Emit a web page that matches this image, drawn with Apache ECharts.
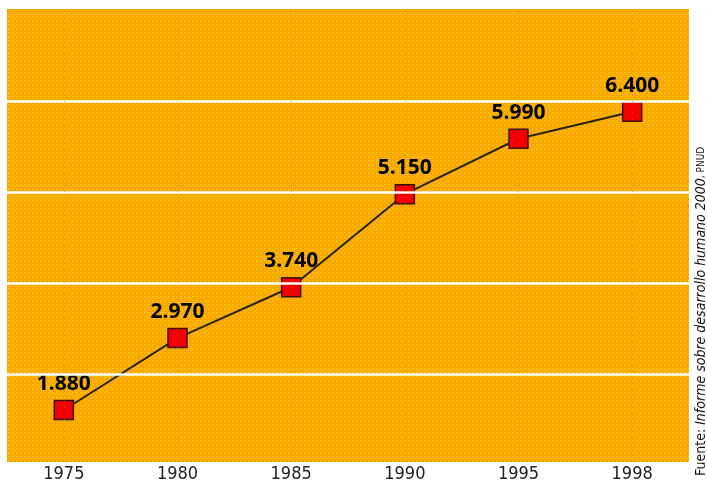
<!DOCTYPE html>
<html>
<head>
<meta charset="utf-8">
<script src="https://cdn.jsdelivr.net/npm/echarts@6/dist/echarts.min.js"></script>
<style>
html,body{margin:0;padding:0;background:#fff;}
#chart{width:707px;height:482px;}
</style>
</head>
<body>
<div id="chart"></div>
<script>
// Data
var years = ['1975', '1980', '1985', '1990', '1995', '1998'];
var values = [1880, 2970, 3740, 5150, 5990, 6400];
var gridLineValues = [2425, 3804, 5183, 6562];
var yMin = 1092;
var yMax = 7956;
var sourceText = {fuente: 'Fuente: ', title: 'Informe sobre desarrollo humano 2000', org: ', PNUD'};

var NARROW = '"DejaVu Sans Condensed", "DejaVu Sans", sans-serif';

// dithered orange pattern
function makePattern() {
  var c = document.createElement('canvas');
  c.width = 4; c.height = 4;
  var ctx = c.getContext('2d');
  ctx.fillStyle = '#F9AA00';
  ctx.fillRect(0, 0, 4, 4);
  ctx.fillStyle = '#FFC41A';
  ctx.fillRect(0, 0, 1, 1);
  ctx.fillRect(2, 2, 1, 1);
  ctx.fillStyle = '#FDB804';
  ctx.fillRect(1, 0, 1, 1);
  ctx.fillRect(0, 1, 1, 1);
  ctx.fillStyle = '#F29E00';
  ctx.fillRect(3, 1, 1, 1);
  ctx.fillRect(1, 3, 1, 1);
  return c;
}

function fmt(v) {
  return String(v).replace(/\B(?=(\d{3})+(?!\d))/g, '.');
}

var chart = echarts.init(document.getElementById('chart'), null, {renderer: 'canvas'});
var option = {
  animation: false,
  backgroundColor: '#ffffff',
  grid: {
    left: 7, right: 18, top: 9, bottom: 20,
    outerBoundsMode: 'none',
    containLabel: false,
    show: true,
    backgroundColor: {image: makePattern(), repeat: 'repeat'},
    borderWidth: 0
  },
  xAxis: {
    type: 'category',
    data: years,
    boundaryGap: true,
    axisLine: {show: false},
    axisTick: {show: false},
    splitLine: {show: false},
    axisLabel: {
      margin: 3,
      color: '#222',
      fontFamily: NARROW,
      fontSize: 18
    }
  },
  yAxis: {
    type: 'value',
    min: yMin,
    max: yMax,
    axisLine: {show: false},
    axisTick: {show: false},
    axisLabel: {show: false},
    splitLine: {show: false}
  },
  series: [
    {
      type: 'line',
      data: [],
      z: 1,
      silent: true,
      markLine: {
        silent: true,
        symbol: ['none', 'none'],
        label: {show: false},
        data: gridLineValues.map(function (v) {
          return {yAxis: v, lineStyle: {color: '#FFFFFF', width: 2.5, type: 'solid', opacity: 1}};
        }).concat(years.map(function (y) {
          return {xAxis: y, lineStyle: {color: '#E0681A', width: 1, type: [1, 5], opacity: 0.6}};
        }))
      }
    },
    {
      type: 'line',
      data: values,
      z: 3,
      symbol: 'rect',
      symbolSize: 19,
      lineStyle: {color: '#2A2410', width: 2},
      itemStyle: {color: '#F50000', borderColor: '#3A1200', borderWidth: 1.5},
      label: {
        show: true,
        position: 'top',
        distance: 5,
        formatter: function (p) { return fmt(p.value); },
        color: '#000',
        fontFamily: '"Open Sans", sans-serif',
        fontWeight: 'bold',
        fontSize: 21
      }
    }
  ],
  graphic: [
    {
      type: 'text',
      x: 701,
      y: 476,
      rotation: Math.PI / 2,
      style: {
        text: '{a|' + sourceText.fuente + '}{b|' + sourceText.title + '}{c|' + sourceText.org + '}',
        align: 'left',
        verticalAlign: 'middle',
        rich: {
          a: {fontFamily: NARROW, fontSize: 14, fill: '#111', color: '#111'},
          b: {fontFamily: NARROW, fontStyle: 'italic', fontSize: 14, fill: '#111', color: '#111'},
          c: {fontFamily: NARROW, fontSize: 10, fill: '#111', color: '#111'}
        }
      }
    }
  ]
};
chart.setOption(option);
</script>
</body>
</html>
